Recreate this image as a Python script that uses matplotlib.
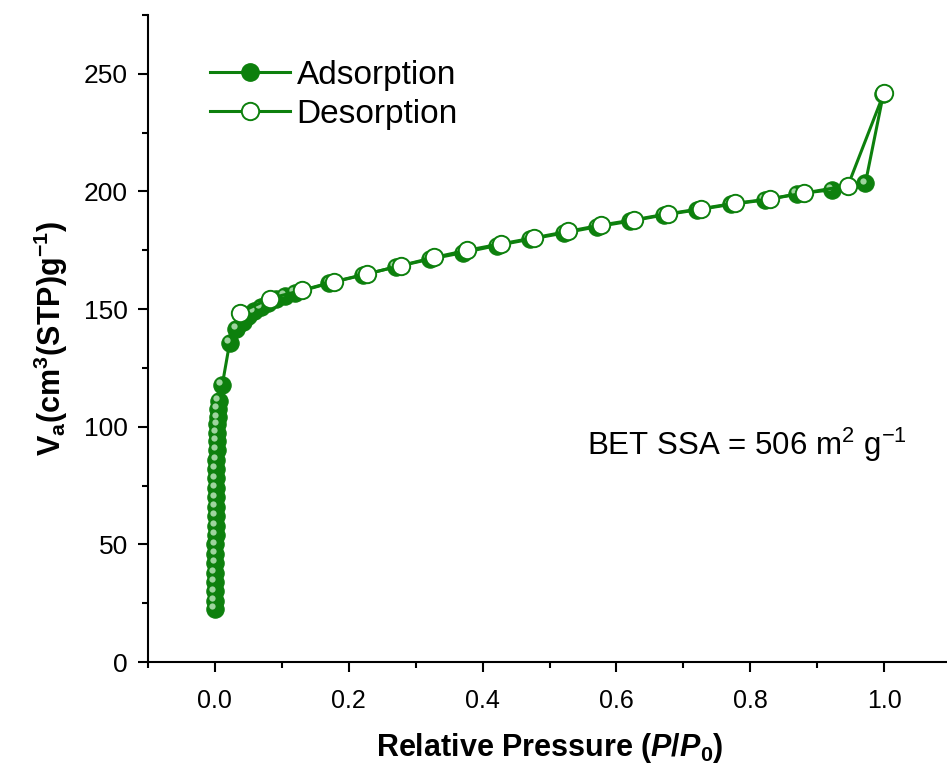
import matplotlib
matplotlib.use('Agg')
import matplotlib.pyplot as plt
import matplotlib.transforms as mtransforms
from matplotlib.ticker import MultipleLocator
from matplotlib.lines import Line2D
import numpy as np

plt.rcParams['font.family'] = ['Liberation Sans', 'DejaVu Sans']
plt.rcParams['mathtext.fontset'] = 'custom'
plt.rcParams['mathtext.rm'] = 'Liberation Sans'
plt.rcParams['mathtext.it'] = 'Liberation Sans:italic'
plt.rcParams['mathtext.bf'] = 'Liberation Sans:bold'
plt.rcParams['mathtext.bfit'] = 'Liberation Sans:italic:bold'

# adsorption branch (P/P0, Va)
p_ads = [0.0001, 0.0002, 0.0003, 0.0004, 0.0005, 0.0006, 0.0007, 0.0008,
         0.0009, 0.001, 0.0011, 0.0012, 0.0014, 0.0016, 0.0018, 0.002,
         0.0023, 0.0026, 0.003, 0.0034, 0.0038, 0.0043, 0.0049, 0.0056,
         0.011, 0.022, 0.032, 0.042, 0.05, 0.058, 0.069, 0.08, 0.092,
         0.105, 0.12, 0.171, 0.221, 0.271, 0.321, 0.371, 0.421, 0.471,
         0.521, 0.571, 0.621, 0.671, 0.721, 0.771, 0.822, 0.870, 0.922,
         0.972, 0.999]
v_ads = [22.5, 26, 30, 34, 38, 42, 46, 50, 54, 58, 62, 66, 70, 74, 78, 82,
         86, 90, 94, 97.5, 101, 104, 107.5, 111,
         117.8, 135.6, 141.6, 144.4, 147, 149, 150.7, 152.6, 154.2,
         155.6, 157, 161, 164.5, 168, 171.2, 174, 177, 179.7,
         182.3, 185, 187.4, 190, 192.2, 194.5, 196.4, 199, 200.7,
         203.4, 241.5]

# desorption branch
p_des = [1.0, 0.946, 0.88, 0.83, 0.777, 0.727, 0.677, 0.627, 0.577, 0.527,
         0.477, 0.427, 0.377, 0.328, 0.278, 0.228, 0.178, 0.13, 0.082, 0.037]
v_des = [242, 202.5, 199.3, 196.8, 195, 192.7, 190.5, 188, 185.7, 183,
         180.3, 177.7, 175, 172, 168.5, 165, 161.7, 158, 154.5, 148.5]

green = '#0d800d'
ms = 12.5

fig = plt.figure(figsize=(9.47, 7.72), dpi=100)
ax = fig.add_axes([148/947, 110/772, 803/947, 647/772])

ax.plot(p_ads, v_ads, '-', color=green, lw=2.2, zorder=2)
ax.plot(p_ads, v_ads, 'o', color=green, ms=ms, mec=green, mew=0.8, zorder=3)
# glossy highlight on the filled balls
shine = mtransforms.offset_copy(ax.transData, fig=fig, x=-2.0, y=2.0, units='points')
ax.plot(p_ads, v_ads, 'o', color='#b8e4b8', ms=4.5, mew=0, alpha=0.85,
        transform=shine, zorder=3.5)

ax.plot(p_des, v_des, '-', color=green, lw=2.2, zorder=4)
ax.plot(p_des, v_des, 'o', mfc='white', mec=green, ms=ms, mew=1.4, zorder=5)

ax.set_xlim(-0.1, 1.1)
ax.set_ylim(0, 275)
ax.xaxis.set_minor_locator(MultipleLocator(0.1))
ax.yaxis.set_major_locator(MultipleLocator(50))
ax.yaxis.set_minor_locator(MultipleLocator(25))
ax.set_xticks(np.arange(0, 1.01, 0.2))
ax.set_xticklabels(['0.0', '0.2', '0.4', '0.6', '0.8', '1.0'])

for side in ['top', 'right']:
    ax.spines[side].set_visible(False)
for side in ['left', 'bottom']:
    ax.spines[side].set_linewidth(1.5)
ax.tick_params(which='major', direction='out', length=7.5, width=1.5,
               labelsize=19, pad=7)
ax.tick_params(axis='x', which='major', labelsize=18, pad=12)
ax.tick_params(which='minor', direction='out', length=4.5, width=1.5)

ax.set_xlabel(r'Relative Pressure ($\mathbfit{P}$/$\mathbfit{P}_\mathbf{0}$)',
              fontweight='bold', fontsize=22, labelpad=13)
ax.set_ylabel(r'V$_\mathbf{a}$(cm$^\mathbf{3}$(STP)g$^\mathbf{-1}$)',
              fontweight='bold', fontsize=22, labelpad=10)

ax.text(0.556, 88, r'BET SSA = 506 m$^2$ g$^{-1}$', fontsize=22.5,
        ha='left', va='baseline')

h_ads = Line2D([], [], color=green, lw=2.2, marker='o', ms=ms, mec=green)
h_des = Line2D([], [], color=green, lw=2.2, marker='o', ms=ms, mfc='white',
               mec=green, mew=1.4)
ax.legend([h_ads, h_des], ['Adsorption', 'Desorption'], loc='upper left',
          bbox_to_anchor=(0.077, 0.931), frameon=False, fontsize=24,
          handlelength=2.4, handletextpad=0.2, labelspacing=0.25,
          borderpad=0, borderaxespad=0)

fig.savefig('out.png', dpi=100)
